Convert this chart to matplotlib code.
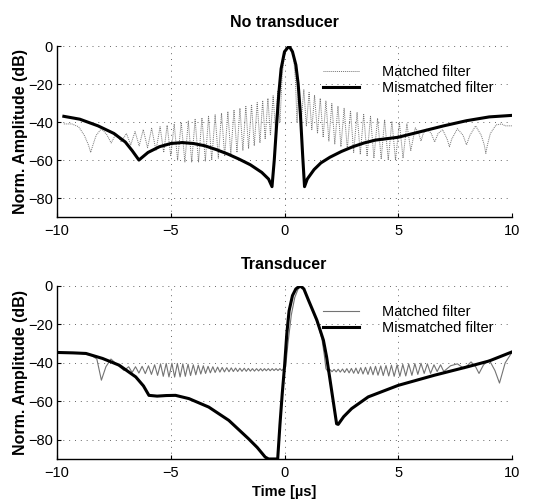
import matplotlib
matplotlib.use("Agg")
import matplotlib.pyplot as plt

plt.rcParams['font.family'] = ['Liberation Sans', 'DejaVu Sans']

# ---------------- data ----------------
top_title = "No transducer"
bottom_title = "Transducer"
x_label = "Time [µs]"
y_label = "Norm. Amplitude (dB)"
legend_labels = ["Matched filter", "Mismatched filter"]
x_ticks = [-10, -5, 0, 5, 10]
y_ticks = [0, -20, -40, -60, -80]

# Top panel: mismatched filter
top_mis_t = [-9.7, -9.0, -8.2, -7.5, -7.0, -6.7, -6.4, -6.0, -5.5, -5.0, -4.5, -4.0,
             -3.5, -3.0, -2.5, -2.0, -1.5, -1.0, -0.7, -0.55, -0.45, -0.35, -0.25,
             -0.15, 0.0, 0.2, 0.35, 0.5, 0.6, 0.7, 0.8, 0.88, 1.0, 1.3, 1.6, 2.0,
             2.5, 3.0, 3.5, 4.0, 5.0, 6.0, 7.0, 8.0, 9.0, 10.0]
top_mis_db = [-37, -38.5, -42, -46, -50.5, -55, -60, -56, -53, -51.3, -50.8, -51.3,
              -52.5, -54.5, -56.8, -59.5, -62.5, -66.5, -70, -74, -60, -42, -25,
              -12, -3, 0, -3, -10, -20, -36, -58, -74, -70, -65, -61.5, -58.5,
              -55.5, -53, -51, -49.5, -48, -45, -42, -39.3, -37.3, -36.5]

# Top panel: matched filter (peaks and nulls of the sidelobes)
top_mat_t = [-9.7, -9.35, -9.05, -8.8, -8.62, -8.52, -8.42, -8.28, -8.05, -7.82, -7.62,
             -7.4, -7.18, -6.95, -6.76, -6.57, -6.39, -6.21, -6.02, -5.84, -5.65,
             -5.47, -5.31, -5.16, -5.0, -4.85, -4.7, -4.54, -4.38, -4.23, -4.08,
             -3.93, -3.78, -3.63, -3.48, -3.34, -3.2, -3.05, -2.91, -2.77, -2.63,
             -2.49, -2.36, -2.22, -2.09, -1.96, -1.83, -1.7, -1.58, -1.45, -1.33,
             -1.2, -1.08, -0.96, -0.85, -0.73, -0.62, -0.5, -0.4, -0.3,
             -0.2, -0.1, 0.0, 0.1, 0.2, 0.3, 0.4, 0.48, 0.55,
             0.62, 0.73, 0.85, 0.96, 1.08, 1.2, 1.32, 1.45, 1.57, 1.7, 1.82, 1.95,
             2.08, 2.21, 2.35, 2.48, 2.62, 2.76, 2.9, 3.04, 3.19, 3.33, 3.48, 3.63,
             3.78, 3.93, 4.09, 4.25, 4.4, 4.56, 4.72, 4.88, 5.05, 5.21, 5.38, 5.55,
             5.75, 5.9, 6.0, 6.1, 6.25, 6.45, 6.6, 6.75, 6.95, 7.15, 7.25, 7.35,
             7.6, 7.85, 8.0, 8.15, 8.4, 8.65, 8.78, 8.85, 8.92, 9.05, 9.3, 9.55,
             9.7, 10.0]
top_mat_db = [-41, -41, -42.5, -47, -52, -56, -52, -47, -43.5, -46.5, -51,
              -46, -50.5, -46, -52, -45, -52.5, -44, -53.5, -43.3, -55,
              -42.5, -56, -41.7, -58, -41, -60, -40.2, -61, -39.5, -61,
              -38.6, -61, -37.8, -60.5, -37, -60, -36.2, -59, -35.3, -58,
              -34.5, -57, -33.6, -56, -32.7, -55, -31.8, -54, -30.8, -52.5,
              -29.8, -51, -28.7, -49, -27.5, -47, -26.2, -44, -24,
              -40, -15, -5, -1, 0, -1.5, -6, -18, -40,
              -21, -40, -23, -42, -24.5, -44, -26, -46, -27.5, -48, -29, -50,
              -30.3, -51.5, -31.6, -53, -32.8, -54.5, -34, -56, -35, -57, -36, -58,
              -37, -59, -38, -59.5, -38.8, -60, -39.6, -60, -40.3, -59, -41, -55,
              -43, -46, -50, -46, -43.5, -46, -50.5, -46, -44, -49, -53, -49,
              -43.5, -47, -52, -47, -42, -47, -52, -56.5, -52, -46, -41.5, -41,
              -42, -42]

# Bottom panel: mismatched filter
bot_mis_t = [-9.97, -9.3, -8.73, -8.0, -7.27, -6.54, -6.2, -5.96, -5.6, -5.2, -4.79,
             -4.2, -3.33, -2.45, -1.58, -1.2, -0.85, -0.7, -0.4, -0.3, -0.2, -0.1,
             0.0, 0.1, 0.2, 0.35, 0.5, 0.69, 0.85, 1.05, 1.42, 1.71, 1.85, 2.07,
             2.29, 2.36, 2.6, 2.95, 3.68, 5.0, 6.6, 8.06, 9.0, 10.0]
bot_mis_db = [-34.6, -34.8, -35.1, -37.7, -41.2, -47.3, -52, -56.9, -57.3, -57, -56.9,
              -58.6, -63, -69.9, -79.5, -84, -89, -90, -90, -90, -72, -56,
              -42, -25, -13, -5, -1.5, 0, -1.5, -7.3, -17.7, -28.2, -36.9, -54.3,
              -71.7, -72, -68, -63.8, -57.7, -51.7, -46.4, -42, -39, -34.3]

# Bottom panel: matched filter
bot_mat_t = [-9.8, -9.0, -8.5, -8.25, -8.05, -7.85, -7.63, -7.35, -7.05,
             -6.85, -6.7, -6.55, -6.4, -6.26, -6.12, -5.98, -5.85, -5.71, -5.58,
             -5.45, -5.33, -5.2, -5.08, -4.95, -4.83, -4.71, -4.59, -4.47, -4.36,
             -4.24, -4.13, -4.01, -3.9, -3.79, -3.68, -3.57, -3.47, -3.36, -3.26,
             -3.15, -3.05, -2.94, -2.84, -2.74, -2.64, -2.54, -2.44, -2.34, -2.25,
             -2.15, -2.06, -1.96, -1.87, -1.77, -1.68, -1.59, -1.5, -1.41, -1.32,
             -1.23, -1.14, -1.05, -0.97, -0.88, -0.8, -0.71, -0.63, -0.54, -0.46,
             -0.37, -0.29, -0.2, -0.12,
             0.05, 0.15, 0.3, 0.45, 0.6, 0.75, 0.9, 1.1, 1.3, 1.5, 1.65, 1.75, 1.82,
             1.91, 2.0, 2.09, 2.18, 2.27, 2.36, 2.45, 2.55, 2.64, 2.74, 2.84, 2.94,
             3.04, 3.14, 3.24, 3.35, 3.45, 3.56, 3.67, 3.78, 3.89, 4.0, 4.11, 4.23,
             4.34, 4.46, 4.58, 4.7, 4.82, 4.95, 5.07, 5.2, 5.33, 5.46, 5.6, 5.73,
             5.86, 6.0, 6.14, 6.28, 6.42, 6.57, 6.71, 6.86, 7.0,
             7.3, 7.6, 7.9, 8.2, 8.4, 8.55, 8.75, 9.0, 9.25, 9.45, 9.7, 10.0]
bot_mat_db = [-34.6, -35, -36, -38, -49, -42, -38, -41, -44,
              -42, -45, -42, -45.3, -41.8, -45.6, -41.5, -46, -41, -46.5,
              -40.5, -47, -40.3, -47.3, -40.2, -47.4, -40.3, -47.3, -40.5, -47,
              -40.7, -46.6, -41, -46.2, -41.2, -45.8, -41.5, -45.5, -41.8, -45.2,
              -42, -45, -42.2, -44.8, -42.4, -44.7, -42.5, -44.6, -42.6, -44.5,
              -42.7, -44.5, -42.8, -44.4, -42.8, -44.4, -42.9, -44.3, -43, -44.3,
              -43, -44.2, -43, -44.2, -43, -44.1, -43, -44.1, -43, -44,
              -43, -44, -43, -44,
              -42, -30, -15, -6, -1.5, 0, -2.5, -9, -15, -21, -28, -36, -43,
              -44.5, -43.5, -44.6, -43.4, -44.7, -43.3, -44.8, -43.2, -45, -43, -45.2, -42.9,
              -45.4, -42.7, -45.6, -42.5, -45.8, -42.3, -46, -42, -46.2, -41.8, -46.4, -41.6,
              -46.6, -41.4, -46.8, -41.2, -47, -41, -47, -40.8, -46.8, -40.6, -46.5, -40.4,
              -46, -40.2, -45.5, -40.5, -45.5, -41, -44.5, -41, -44.5,
              -41.5, -40.5, -43, -39.5, -42, -45.5, -41, -38.5, -44, -50.5, -40, -34.5]

# ---------------- figure ----------------
fig = plt.figure(figsize=(5.39, 4.99), dpi=100)
ax_top = fig.add_axes([0.1058, 0.565, 0.8441, 0.3428])
ax_bot = fig.add_axes([0.1058, 0.0802, 0.8441, 0.3467])


def fmt(v):
    return str(v) if v >= 0 else '\u2212' + str(-v)


def style(ax, title, title_pad, show_xlabel):
    ax.set_xlim(-10, 10)
    ax.set_ylim(-90, 0)
    ax.set_xticks(x_ticks)
    ax.set_yticks(y_ticks)
    ax.set_xticklabels([fmt(v) for v in x_ticks])
    ax.set_yticklabels([fmt(v) for v in y_ticks])
    ax.tick_params(direction='in', length=3, labelsize=10.5, width=0.8)
    ax.tick_params(axis='x', pad=5)
    ax.tick_params(axis='y', pad=3)
    for s in ['top', 'right']:
        ax.spines[s].set_visible(False)
    for s in ['left', 'bottom']:
        ax.spines[s].set_linewidth(1.0)
    ax.grid(True, linestyle=(0, (1, 5)), color='0.4', linewidth=0.7)
    ax.set_axisbelow(True)
    ax.set_title(title, fontsize=11.5, fontweight='bold', pad=title_pad)
    ax.set_ylabel(y_label, fontsize=11.5, fontweight='bold', labelpad=0)
    if show_xlabel:
        ax.set_xlabel(x_label, fontsize=10.5, fontweight='bold', labelpad=4)


style(ax_top, top_title, 14, False)
style(ax_bot, bottom_title, 12, True)

ax_top.plot(top_mat_t, top_mat_db, linestyle=(0, (1, 1)), color='0.45',
            linewidth=0.7, label=legend_labels[0])
ax_top.plot(top_mis_t, top_mis_db, color='black', linewidth=2.2,
            label=legend_labels[1])

ax_bot.plot(bot_mat_t, bot_mat_db, color='0.45', linewidth=0.8,
            label=legend_labels[0])
ax_bot.plot(bot_mis_t, bot_mis_db, color='black', linewidth=2.2,
            label=legend_labels[1])

for ax in (ax_top, ax_bot):
    ax.legend(loc='upper left', bbox_to_anchor=(0.585, 0.89), frameon=False,
              fontsize=10.5, handlelength=2.45, handletextpad=1.6,
              labelspacing=0.15, borderpad=0, borderaxespad=0)

fig.savefig("out.png", dpi=100)
